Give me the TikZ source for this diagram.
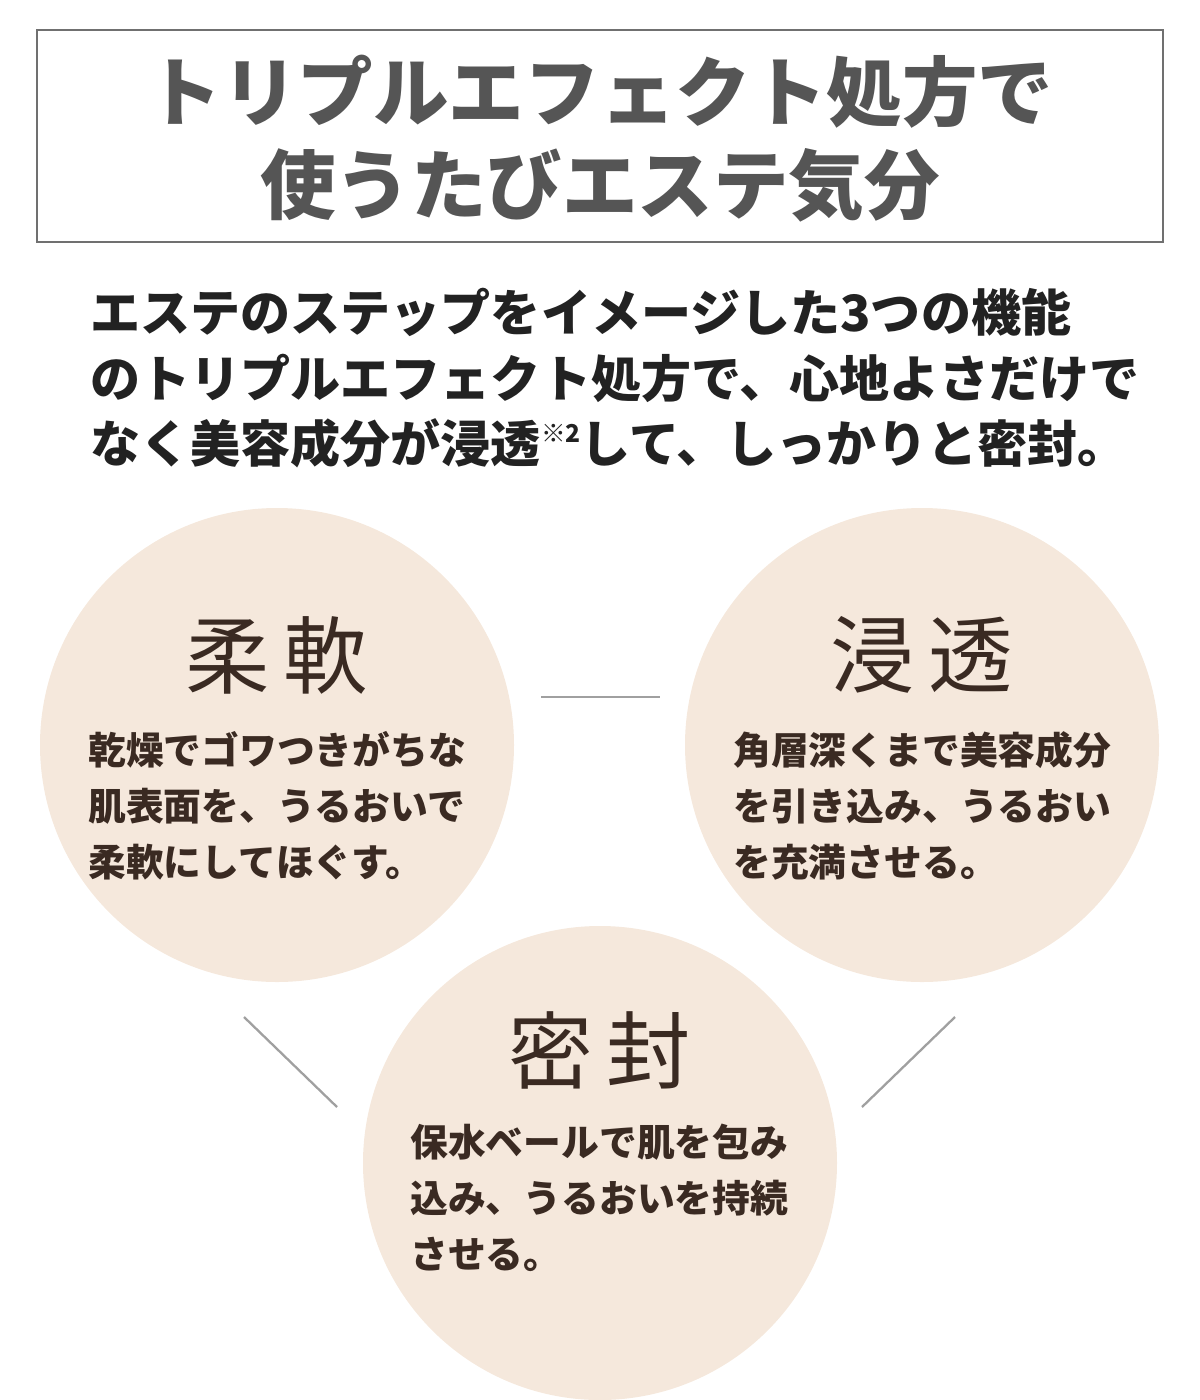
\documentclass[tikz,border=0pt]{standalone}
\usepackage{fontspec}
\setmainfont{Noto Sans CJK JP}
\definecolor{boxgray}{HTML}{707070}
\definecolor{titlegray}{HTML}{555555}
\definecolor{txt}{HTML}{222222}
\definecolor{beige}{HTML}{F5E8DC}
\definecolor{brown}{HTML}{3A2A22}
\definecolor{linegray}{HTML}{A0A0A0}
\begin{document}
\begin{tikzpicture}[x=0.02cm,y=-0.02cm,
  ttl/.style={font=\fontsize{43}{50}\selectfont\bfseries,text=titlegray,inner sep=0},
  para/.style={font=\fontsize{28.5}{34}\selectfont\bfseries,text=txt,anchor=west,inner sep=0},
  circ/.style={circle,fill=beige,minimum size=0.02cm*474,inner sep=0},
  head/.style={font=\fontsize{48}{50}\selectfont,text=brown,inner sep=0},
  body/.style={font=\fontsize{21.5}{26}\selectfont\bfseries,text=brown,anchor=west,inner sep=0},
  conn/.style={draw=linegray,line width=1.3pt}]
\useasboundingbox (0,0) rectangle (1200,1400);
\draw[boxgray,line width=1.6pt] (37,30) rectangle (1163,242);
\node[ttl] (t1) at (600,92) {トリプルエフェクト処方で};
\node[ttl] (t2) at (600,185) {使うたびエステ気分};
\node[para] (p1) at (90,312) {エステのステップをイメージした3つの機能};
\node[para] (p2) at (90,378) {のトリプルエフェクト処方で、心地よさだけで};
\node[para] (p3) at (90,443) {なく美容成分が浸透{\fontsize{14}{14}\selectfont\raisebox{0.8em}{※2}}して、しっかりと密封。};
\node[circ] (c1) at (277,745) {};
\node[circ] (c2) at (922,745) {};
\node[circ] (c3) at (600,1163) {};
\coordinate (h1) at (541,697); \coordinate (h2) at (660,697);
\coordinate (l1) at (244,1017); \coordinate (l2) at (337,1107);
\coordinate (r1) at (955,1017); \coordinate (r2) at (862,1107);
\draw[conn] (h1) -- (h2);
\draw[conn] (l1) -- (l2);
\draw[conn] (r1) -- (r2);
\node[head] (k1) at (277,655) {柔\,軟};
\node[body] (a1) at (88,750) {乾燥でゴワつきがちな};
\node[body] (a2) at (88,806) {肌表面を、うるおいで};
\node[body] (a3) at (88,862) {柔軟にしてほぐす。};
\node[head] (k2) at (922,655) {浸\,透};
\node[body] (b1) at (733,750) {角層深くまで美容成分};
\node[body] (b2) at (733,806) {を引き込み、うるおい};
\node[body] (b3) at (733,862) {を充満させる。};
\node[head] (k3) at (600,1050) {密\,封};
\node[body] (d1) at (410,1142) {保水ベールで肌を包み};
\node[body] (d2) at (410,1198) {込み、うるおいを持続};
\node[body] (d3) at (410,1254) {させる。};
\end{tikzpicture}
\end{document}
